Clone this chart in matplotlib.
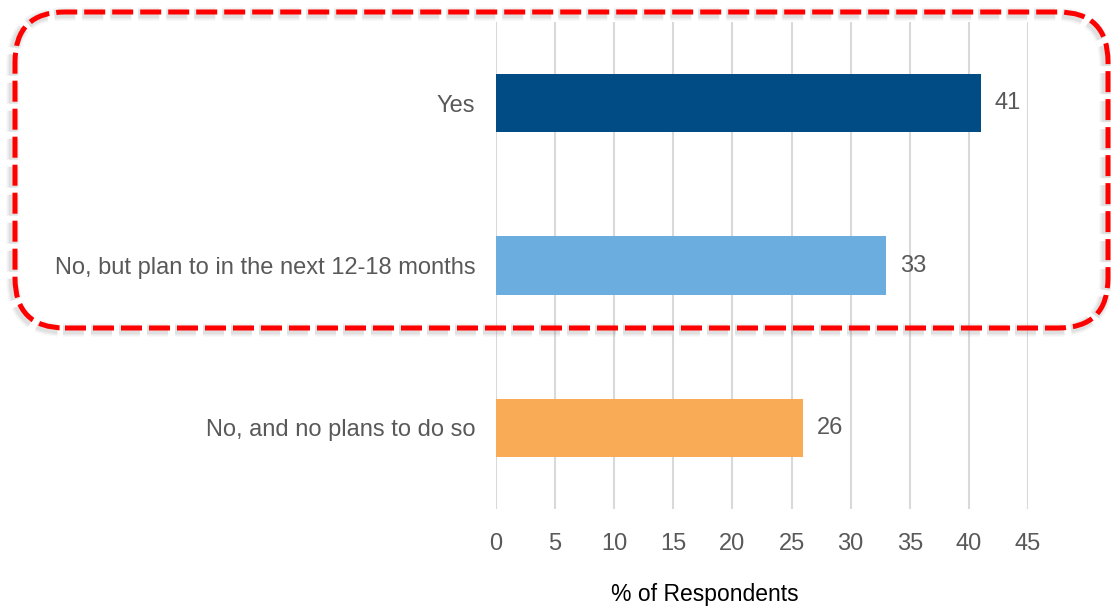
import matplotlib.pyplot as plt
from matplotlib.patches import FancyBboxPatch

plt.rcParams['font.family'] = ['Liberation Sans', 'DejaVu Sans']

# survey answers, top to bottom
answers = ['Yes', 'No, but plan to in the next 12-18 months', 'No, and no plans to do so']
pct = [41, 33, 26]
bar_colors = ['#024C86', '#6CADDF', '#F9AC55']
xticks = [0, 5, 10, 15, 20, 25, 30, 35, 40, 45]

W, H = 1111, 608
fig = plt.figure(figsize=(W / 100, H / 100), dpi=100)
ax = fig.add_axes([496 / W, 1 - 509 / H, (1028 - 496) / W, (509 - 22) / H])

pos = list(range(len(answers)))
ax.barh(pos, pct, height=0.36, color=bar_colors, zorder=3)
for p, v in zip(pos, pct):
    ax.annotate(str(v), (v, p), xytext=(10, 0), textcoords='offset points',
                va='center', ha='left', fontsize=17, color='#595959')

ax.set_xlim(0, 45)
ax.set_ylim(len(answers) - 0.5, -0.5)
ax.set_yticks(pos)
ax.set_yticklabels(answers)
ax.set_xticks(xticks)
ax.tick_params(axis='both', length=0, labelsize=17, labelcolor='#595959')
ax.tick_params(axis='x', pad=17)
ax.tick_params(axis='y', pad=15)
ax.grid(axis='x', color='#D9D9D9', linewidth=1.5, zorder=0)
for s in ax.spines.values():
    s.set_visible(False)

fig.text(705 / W, 1 - 595 / H, '% of Respondents', ha='center', va='center',
         fontsize=16.5, color='black')

# dashed highlight box around the first two answers, drawn in inches
x0, x1 = 15 / 100, 1108 / 100
y0, y1 = (H - 328) / 100, (H - 12) / 100
r = 0.5
for lw, a in [(10, 0.05), (8, 0.08), (6, 0.12)]:
    sh = FancyBboxPatch((x0 - 0.02 + r, y0 - 0.02 + r), x1 - x0 - 2 * r, y1 - y0 - 2 * r,
                        boxstyle=f'round,pad={r},rounding_size={r}',
                        transform=fig.dpi_scale_trans, fill=False, edgecolor='gray',
                        linewidth=lw, alpha=a, linestyle=(0, (4.2 * 3.6 / lw, 1.4 * 3.6 / lw)))
    fig.add_artist(sh)
box = FancyBboxPatch((x0 + r, y0 + r), x1 - x0 - 2 * r, y1 - y0 - 2 * r,
                     boxstyle=f'round,pad={r},rounding_size={r}',
                     transform=fig.dpi_scale_trans, fill=False, edgecolor='#FF0000',
                     linewidth=3.6, linestyle=(0, (4.2, 1.4)))
fig.add_artist(box)

fig.savefig('out.png', dpi=100)
